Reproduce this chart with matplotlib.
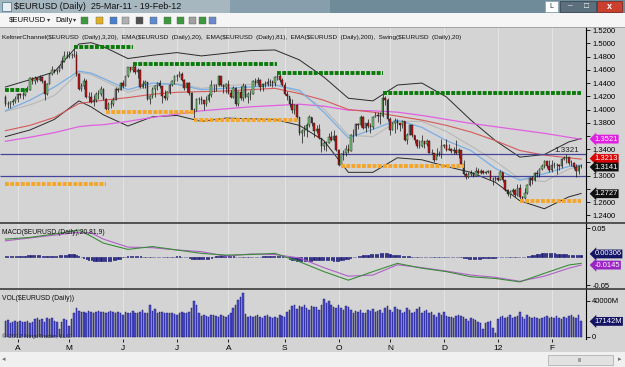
import numpy as np
import pandas as pd
import matplotlib
matplotlib.use("Agg")
import matplotlib.pyplot as plt
from matplotlib.lines import Line2D
from matplotlib.patches import Rectangle

plt.rcParams['font.family'] = ['Liberation Sans', 'DejaVu Sans']

# --- $EURUSD daily bars, 25-Mar-11 .. 17-Feb-12 ---
dates = pd.bdate_range('2011-03-25', '2012-02-17')
first_open = 1.4195

close = [
    1.4090, 1.4085, 1.4110, 1.4125, 1.4165,
    1.4230, 1.4215, 1.4215, 1.4300, 1.4300, 1.4480, 1.4425, 1.4480, 1.4445, 1.4490, 1.4430, 1.4230, 1.4390, 1.4535, 1.4590, 1.4580, 1.4585, 1.4630, 1.4730, 1.4815, 1.4810,
    1.4830, 1.4830, 1.4830, 1.4530, 1.4315, 1.4355, 1.4430, 1.4195, 1.4195, 1.4110, 1.4150, 1.4230, 1.4240, 1.4315, 1.4165, 1.4005, 1.4085, 1.4085, 1.4150, 1.4310, 1.4300, 1.4400,
    1.4360, 1.4500, 1.4635, 1.4590, 1.4645, 1.4560, 1.4600, 1.4340, 1.4385, 1.4410, 1.4160, 1.4200, 1.4310, 1.4350, 1.4405, 1.4360, 1.4210, 1.4180, 1.4260, 1.4370, 1.4430, 1.4500,
    1.4510, 1.4535, 1.4450, 1.4330, 1.4400, 1.4250, 1.4000, 1.3990, 1.4155, 1.4160, 1.4150, 1.4085, 1.4150, 1.4225, 1.4370, 1.4370, 1.4375, 1.4510, 1.4365, 1.4340, 1.4390,
    1.4245, 1.4190, 1.4325, 1.4085, 1.4260, 1.4170, 1.4360, 1.4185, 1.4230, 1.4240, 1.4430, 1.4400, 1.4445, 1.4335, 1.4390, 1.4390, 1.4420, 1.4410, 1.4400, 1.4495, 1.4500, 1.4445, 1.4375,
    1.4235, 1.4200, 1.4090, 1.4000, 1.4065, 1.3885, 1.3650, 1.3675, 1.3700, 1.3770, 1.3880, 1.3790, 1.3680, 1.3710, 1.3570, 1.3450, 1.3500, 1.3500, 1.3590, 1.3545, 1.3605, 1.3390,
    1.3165, 1.3330, 1.3345, 1.3410, 1.3375, 1.3615, 1.3620, 1.3785, 1.3760, 1.3880, 1.3720, 1.3790, 1.3755, 1.3740, 1.3890, 1.3920, 1.3900, 1.3905, 1.4180, 1.4140, 1.3850,
    1.3695, 1.3790, 1.3820, 1.3790, 1.3770, 1.3830, 1.3535, 1.3620, 1.3760, 1.3615, 1.3535, 1.3450, 1.3455, 1.3520, 1.3480, 1.3525, 1.3350, 1.3335, 1.3240, 1.3320, 1.3320, 1.3445,
    1.3465, 1.3385, 1.3400, 1.3380, 1.3385, 1.3350, 1.3385, 1.3180, 1.3025, 1.2985, 1.3030, 1.3045, 1.3000, 1.3075, 1.3045, 1.3065, 1.3045, 1.3050, 1.3075, 1.2945, 1.2950, 1.2960,
    1.2940, 1.3050, 1.2935, 1.2790, 1.2720, 1.2760, 1.2780, 1.2710, 1.2815, 1.2680, 1.2665, 1.2740, 1.2865, 1.2965, 1.2935, 1.3040, 1.3030, 1.3100, 1.3145, 1.3215, 1.3140, 1.3080,
    1.3165, 1.3165, 1.3160, 1.3140, 1.3255, 1.3270, 1.3275, 1.3195, 1.3185, 1.3135, 1.3075, 1.3140, 1.3141,
]
high = [
    1.4220, 1.4125, 1.4135, 1.4160, 1.4200,
    1.4250, 1.4250, 1.4260, 1.4320, 1.4350, 1.4490, 1.4490, 1.4500, 1.4490, 1.4520, 1.4500, 1.4440, 1.4400, 1.4550, 1.4650, 1.4610, 1.4610, 1.4650, 1.4790, 1.4880, 1.4880,
    1.4880, 1.4860, 1.4940, 1.4880, 1.4550, 1.4400, 1.4470, 1.4460, 1.4260, 1.4260, 1.4220, 1.4260, 1.4290, 1.4350, 1.4330, 1.4170, 1.4120, 1.4140, 1.4190, 1.4340, 1.4330, 1.4420,
    1.4440, 1.4510, 1.4640, 1.4630, 1.4695, 1.4670, 1.4620, 1.4610, 1.4440, 1.4440, 1.4420, 1.4220, 1.4340, 1.4370, 1.4420, 1.4450, 1.4360, 1.4290, 1.4280, 1.4390, 1.4440, 1.4520,
    1.4535, 1.4580, 1.4560, 1.4460, 1.4420, 1.4410, 1.4260, 1.4020, 1.4170, 1.4190, 1.4210, 1.4150, 1.4200, 1.4245, 1.4440, 1.4390, 1.4390, 1.4525, 1.4510, 1.4390, 1.4400,
    1.4450, 1.4290, 1.4350, 1.4340, 1.4280, 1.4350, 1.4400, 1.4380, 1.4260, 1.4290, 1.4440, 1.4470, 1.4490, 1.4460, 1.4400, 1.4430, 1.4480, 1.4460, 1.4440, 1.4510, 1.4550, 1.4530, 1.4470,
    1.4410, 1.4280, 1.4180, 1.4160, 1.4090, 1.4080, 1.3890, 1.3700, 1.3760, 1.3790, 1.3920, 1.3890, 1.3800, 1.3770, 1.3780, 1.3570, 1.3530, 1.3520, 1.3650, 1.3670, 1.3690, 1.3610,
    1.3400, 1.3350, 1.3390, 1.3460, 1.3480, 1.3630, 1.3700, 1.3790, 1.3800, 1.3910, 1.3900, 1.3800, 1.3850, 1.3800, 1.3900, 1.3960, 1.3960, 1.3960, 1.4247, 1.4200, 1.4170,
    1.3880, 1.3810, 1.3870, 1.3860, 1.3790, 1.3840, 1.3820, 1.3650, 1.3780, 1.3760, 1.3620, 1.3550, 1.3540, 1.3610, 1.3520, 1.3560, 1.3540, 1.3400, 1.3350, 1.3420, 1.3370, 1.3550,
    1.3480, 1.3550, 1.3480, 1.3420, 1.3440, 1.3540, 1.3420, 1.3380, 1.3230, 1.3060, 1.3060, 1.3080, 1.3060, 1.3125, 1.3120, 1.3100, 1.3080, 1.3070, 1.3090, 1.3080, 1.2980, 1.2990,
    1.2980, 1.3080, 1.3050, 1.2940, 1.2800, 1.2790, 1.2820, 1.2800, 1.2880, 1.2880, 1.2700, 1.2810, 1.2880, 1.2980, 1.2990, 1.3050, 1.3080, 1.3120, 1.3180, 1.3230, 1.3220, 1.3230,
    1.3230, 1.3210, 1.3190, 1.3170, 1.3270, 1.3290, 1.3322, 1.3280, 1.3230, 1.3210, 1.3180, 1.3160, 1.3180,
]
low = [
    1.4060, 1.4030, 1.4025, 1.4075, 1.4095,
    1.4120, 1.4180, 1.4160, 1.4200, 1.4260, 1.4290, 1.4380, 1.4380, 1.4410, 1.4430, 1.4400, 1.4150, 1.4220, 1.4380, 1.4520, 1.4550, 1.4530, 1.4560, 1.4610, 1.4720, 1.4780,
    1.4780, 1.4780, 1.4800, 1.4500, 1.4300, 1.4280, 1.4310, 1.4180, 1.4110, 1.4100, 1.4060, 1.4110, 1.4160, 1.4200, 1.4150, 1.3970, 1.4000, 1.4020, 1.4060, 1.4140, 1.4260, 1.4290,
    1.4330, 1.4350, 1.4490, 1.4560, 1.4560, 1.4540, 1.4480, 1.4330, 1.4330, 1.4330, 1.4140, 1.4080, 1.4180, 1.4190, 1.4300, 1.4330, 1.4100, 1.4150, 1.4150, 1.4240, 1.4350, 1.4390,
    1.4430, 1.4490, 1.4430, 1.4300, 1.4260, 1.4220, 1.3960, 1.3840, 1.3980, 1.4080, 1.4080, 1.3990, 1.4050, 1.4110, 1.4190, 1.4270, 1.4280, 1.4360, 1.4350, 1.4250, 1.4250,
    1.4230, 1.4170, 1.4170, 1.4060, 1.4060, 1.4150, 1.4130, 1.4170, 1.4100, 1.4150, 1.4230, 1.4360, 1.4370, 1.4280, 1.4280, 1.4340, 1.4360, 1.4350, 1.4340, 1.4360, 1.4450, 1.4410, 1.4360,
    1.4220, 1.4140, 1.4040, 1.3940, 1.3930, 1.3850, 1.3620, 1.3495, 1.3600, 1.3590, 1.3730, 1.3750, 1.3590, 1.3640, 1.3560, 1.3360, 1.3390, 1.3380, 1.3500, 1.3520, 1.3530, 1.3380,
    1.3150, 1.3145, 1.3240, 1.3300, 1.3340, 1.3370, 1.3510, 1.3600, 1.3700, 1.3740, 1.3700, 1.3660, 1.3720, 1.3650, 1.3700, 1.3880, 1.3810, 1.3780, 1.3880, 1.4070, 1.3830,
    1.3610, 1.3690, 1.3640, 1.3700, 1.3680, 1.3720, 1.3520, 1.3480, 1.3610, 1.3580, 1.3500, 1.3420, 1.3420, 1.3430, 1.3420, 1.3450, 1.3340, 1.3320, 1.3212, 1.3290, 1.3290, 1.3260,
    1.3420, 1.3380, 1.3390, 1.3340, 1.3320, 1.3330, 1.3260, 1.3170, 1.3010, 1.2945, 1.2960, 1.3000, 1.2980, 1.2990, 1.3030, 1.3030, 1.3030, 1.3030, 1.3040, 1.2940, 1.2860, 1.2920,
    1.2920, 1.2935, 1.2910, 1.2770, 1.2690, 1.2665, 1.2720, 1.2670, 1.2700, 1.2624, 1.2624, 1.2650, 1.2720, 1.2850, 1.2880, 1.2920, 1.2980, 1.2980, 1.3080, 1.3120, 1.3110, 1.3060,
    1.3060, 1.3110, 1.3030, 1.3080, 1.3110, 1.3230, 1.3190, 1.3160, 1.3140, 1.3100, 1.2975, 1.3030, 1.3110,
]
# volume in thousands of millions
volume_k = [
    18, 19, 15, 17, 18,
    17, 18, 16, 17, 18, 15, 16, 20, 21, 19, 20, 17, 21, 20, 21, 18, 16, 9, 17, 20, 19,
    12, 20, 26, 32, 29, 28, 28, 27, 29, 28, 27, 28, 29, 28, 28, 27, 28, 29, 28, 27, 28, 26,
    24, 28, 27, 26, 29, 26, 27, 28, 30, 26, 27, 35, 29, 31, 27, 28, 28, 27, 26, 27, 26, 25,
    24, 26, 28, 27, 26, 28, 32, 40, 35, 27, 23, 24, 23, 22, 24, 24, 23, 22, 24, 23, 22,
    24, 26, 32, 35, 41, 44, 49, 25, 22, 23, 22, 23, 24, 22, 21, 23, 24, 22, 21, 22, 21, 24, 23,
    22, 28, 30, 34, 35, 31, 34, 33, 35, 32, 30, 34, 33, 33, 30, 35, 42, 38, 40, 36, 33, 32,
    35, 32, 30, 34, 33, 30, 27, 29, 28, 30, 27, 26, 30, 29, 31, 28, 29, 30, 27, 32, 34,
    30, 28, 33, 31, 30, 27, 28, 32, 30, 27, 28, 31, 33, 26, 29, 30, 26, 28, 24, 22, 26, 24,
    28, 23, 22, 22, 21, 23, 24, 23, 22, 20, 18, 21, 20, 19, 17, 15, 9, 15, 16, 18, 10, 4,
    20, 22, 23, 21, 22, 24, 21, 22, 23, 28, 22, 20, 24, 22, 21, 22, 21, 20, 21, 22, 23, 21,
    22, 21, 23, 21, 20, 22, 21, 23, 24, 22, 21, 24, 17.142,
]
# MACD diff histogram, in thousandths
macd_diff = [
    1, 2, 2, 2, 2, 2, 2, 2, 2, 3, 3, 3,
    3, 3, 3, 2,
    2, 1, 2, 2, 2, 2, 3, 3,
    4, 4, 5, 5, 5, 4,
    2, 0, -2, -4, -5, -6, -7, -8, -8, -8, -8, -8, -7, -7, -6, -5, -4, -3, -1,
    0, 1, 2, 2, 2, 2, 1, 0,
    -1, -1, -1, -1, -1, 0, 0, -1, -1, -1, 0, 0, 0, 1, 1, 0, 0, -1, -2, -3,
    -4, -4, -4, -4, -4, -3, -3, -2,
    0, 1, 2, 3, 3, 3, 3, 2, 1,
    0, 0, -1, -1, -1, -1, 0, 0, 0, 0, 0, 1, 1, 1,
    2, 2, 2, 2, 2, 1, 0, -1,
    -3, -5, -6, -7, -8, -8, -8, -7, -7, -7, -6, -6, -6, -6, -6, -6, -6, -6, -7, -7, -7, -6, -5, -4, -3, -2, -1, 0,
    1, 2, 3, 4, 4, 5, 5, 5, 5, 6, 6, 7, 6,
    5, 4, 4, 3, 3, 2, 2, 1, 1,
    0, 0, 0, 0, -1, -1, -1, -1, -1, -1, -1, -1, 0, 0, 0, 0, -1, -1, -1, -1, -1, -2,
    -2, -3, -3, -3, -3, -3, -3, -2, -2, -2, -2, -2, -2, -1,
    -1, -1, -1, -1, -1, 0, 0, 0, 0, 0, 0, 1, 2, 3,
    4, 5, 5, 6, 6, 6, 6, 6, 6, 5, 5, 5, 5, 5, 4, 4, 4, 4, 3, 3,
]

# indicator lines, read at these bar numbers
line_bars = [0, 10, 20, 30, 35, 40, 50, 60, 70, 80, 90, 100, 110, 120, 130,
             140, 150, 160, 170, 180, 190, 200, 210, 220, 230, 235]
kc_upper = [1.434, 1.445, 1.457, 1.499, 1.501, 1.495, 1.477, 1.482, 1.486, 1.481, 1.485, 1.489, 1.490,
            1.475, 1.449, 1.417, 1.413, 1.437, 1.440, 1.419, 1.384, 1.353, 1.328, 1.332, 1.351, 1.356]
kc_mid = [1.397, 1.407, 1.421, 1.456, 1.453, 1.444, 1.426, 1.436, 1.439, 1.432, 1.436, 1.438, 1.438,
          1.426, 1.401, 1.361, 1.359, 1.382, 1.382, 1.367, 1.345, 1.322, 1.295, 1.291, 1.310, 1.315]
kc_lower = [1.359, 1.369, 1.385, 1.413, 1.404, 1.392, 1.375, 1.389, 1.391, 1.382, 1.387, 1.386, 1.385,
            1.376, 1.353, 1.305, 1.305, 1.327, 1.324, 1.314, 1.305, 1.290, 1.262, 1.250, 1.268, 1.273]
ema20 = [1.398, 1.414, 1.434, 1.458, 1.455, 1.447, 1.430, 1.440, 1.438, 1.430, 1.432, 1.434, 1.437,
         1.429, 1.396, 1.357, 1.370, 1.384, 1.373, 1.353, 1.338, 1.311, 1.293, 1.303, 1.314, 1.316]
ema81 = [1.368, 1.376, 1.388, 1.409, 1.4115, 1.414, 1.418, 1.423, 1.426, 1.427, 1.428, 1.430, 1.432,
         1.424, 1.414, 1.400, 1.396, 1.390, 1.384, 1.376, 1.366, 1.353, 1.338, 1.331, 1.327, 1.325]
ema200 = [1.352, 1.358, 1.365, 1.374, 1.376, 1.377, 1.382, 1.388, 1.393, 1.398, 1.401, 1.404, 1.406,
          1.408, 1.405, 1.399, 1.398, 1.396, 1.391, 1.385, 1.379, 1.374, 1.369, 1.364, 1.358, 1.355]
macd = [0.031, 0.034, 0.040, 0.047, 0.036, 0.024, 0.013, 0.018, 0.012, 0.006, 0.003, 0.004, 0.006,
        -0.0085, -0.026, -0.041, -0.026, -0.0115, -0.020, -0.026, -0.035, -0.038, -0.044, -0.029, -0.0144, -0.0115]
macd_avg = [0.028, 0.033, 0.038, 0.043, 0.042, 0.031, 0.017, 0.016, 0.012, 0.009, 0.001, 0.005, 0.004,
            -0.002, -0.019, -0.034, -0.032, -0.014, -0.019, -0.025, -0.032, -0.036, -0.043, -0.034, -0.020, -0.0145]

swing_high = [1.4290, 1.4940, 1.4695, 1.4550, 1.4247]
swing_high_from = [0, 28, 52, 111, 154]
swing_high_to = [9, 52, 111, 154, 235]
swing_low = [1.2870, 1.3968, 1.3837, 1.3145, 1.2624]
swing_low_from = [0, 41, 77, 137, 210]
swing_low_to = [41, 77, 120, 187, 235]
drawn_lines = [1.3321, 1.2990]
month_labels = ['A', 'M', 'J', 'J', 'A', 'S', 'O', 'N', 'D', '12', 'F']
price_ticks = [1.24, 1.26, 1.28, 1.30, 1.32, 1.34, 1.36, 1.38, 1.40, 1.42, 1.44, 1.46, 1.48, 1.50, 1.52]
hidden_ticks = [1.28, 1.32, 1.36]   # covered by the value tags

BG = '#d4d4d4'
W, H = 625, 367
fig = plt.figure(figsize=(W / 100, H / 100), dpi=100)
fig.patch.set_facecolor('#f0f0f0')


def frect(x0, y0, x1, y1, **kw):
    kw.setdefault('zorder', -2)
    fig.add_artist(Rectangle((x0 / W, 1 - y1 / H), (x1 - x0) / W, (y1 - y0) / H,
                             transform=fig.transFigure, **kw))


def fline(x0, x1, y, **kw):
    fig.add_artist(Line2D([x0 / W, x1 / W], [1 - y / H, 1 - y / H], transform=fig.transFigure, **kw))


def ftext(x, y, s, **kw):
    fig.text(x / W, 1 - y / H, s, **kw)


def px_axes(x0, y0, x1, y1):
    a = fig.add_axes([x0 / W, 1 - y1 / H, (x1 - x0) / W, (y1 - y0) / H])
    a.set_facecolor(BG)
    for s in ['top', 'left', 'bottom']:
        a.spines[s].set_visible(False)
    a.spines['right'].set_linewidth(0.8)
    a.yaxis.tick_right()
    a.tick_params(axis='y', direction='out', length=3, width=0.6, labelsize=5.5, pad=1.5)
    return a


# window chrome
frect(0, 0, 625, 13, fc='#6f8a99', lw=0)
frect(0, 0, 230, 13, fc='#a7b7bf', lw=0)
frect(230, 0, 330, 13, fc='#879ead', lw=0)
frect(2, 2, 11, 11, fc='#e8eef2', ec='#40708f', lw=0.5, zorder=3)
ftext(14, 6.5, r'\$EURUSD (Daily)  25-Mar-11 - 19-Feb-12', fontsize=6.5, va='center', color='#101010')
frect(545, 1, 558, 12, fc='white', ec='#8aa0b0', lw=0.5, zorder=3)
ftext(551.5, 6.5, 'L', fontsize=5, ha='center', va='center', color='#203040')
frect(560, 1, 596, 12, fc='#5b6f7d', ec='#34414a', lw=0.5, zorder=3)
frect(597, 1, 622, 12, fc='#c9402f', ec='#7a2018', lw=0.5, zorder=3)
ftext(609.5, 6.5, 'x', fontsize=6.5, ha='center', va='center', color='white', weight='bold')
ftext(569, 6.5, '_', fontsize=6, ha='center', va='bottom', color='white')
ftext(586, 6.5, '\u25a1', fontsize=6, ha='center', va='center', color='white')

# toolbar
frect(0, 13, 625, 27, fc='#f5f5f5', lw=0)
fline(0, 625, 27, color='#9a9a9a', lw=0.6, zorder=5)
ftext(9, 20, r'\$EURUSD', fontsize=5.6, va='center', color='#101010')
ftext(47, 20, '\u25be', fontsize=4.5, va='center', color='#303030')
ftext(55, 20, 'Daily', fontsize=5.6, va='center', color='#101010')
ftext(72.5, 20, '\u25be', fontsize=4.5, va='center', color='#303030')
icon_x = [81, 96, 110, 122, 136, 150, 164, 177, 189, 199, 209]
icon_c = ['#3c9a3c', '#e0b020', '#4a7fd0', '#b0b0b0', '#505050', '#5a8ad0',
          '#3c9a3c', '#3c9a3c', '#a0a0a0', '#3c9a3c', '#6a8ad0']
for xi, ci in zip(icon_x, icon_c):
    frect(xi, 17, xi + 7, 24, fc=ci, ec='#606060', lw=0.3, zorder=3)

# chart area and scroll bar
frect(0, 27, 625, 352, fc=BG, lw=0)
frect(0, 352, 625, 367, fc='#f0f0f0', lw=0)
frect(548, 355, 613, 365, fc='#e2e2e2', ec='#a8a8a8', lw=0.5, zorder=3)
ftext(580, 360, 'III', fontsize=4, ha='center', va='center', color='#606060')
ftext(4, 360, '\u25c2', fontsize=5, ha='center', va='center', color='#707070')
ftext(620, 360, '\u25b8', fontsize=5, ha='center', va='center', color='#707070')

x = np.arange(len(close))
c = np.array(close)
o = np.r_[first_open, c[:-1]]
month_pos = [i for i in range(1, len(dates)) if dates[i].month != dates[i - 1].month]
xlim = (-2.2, 237.0)

# ---------------- price panel ----------------
ax = px_axes(0, 27, 586, 222.5)
ax.set_xlim(*xlim)
ax.set_ylim(1.2292, 1.5247)
ax.set_yticks(price_ticks)
ax.set_yticklabels(['' if t in hidden_ticks else f'{t:.4f}' for t in price_ticks])
ax.set_xticks(month_pos)
ax.tick_params(axis='x', bottom=False, labelbottom=False)
ax.grid(axis='x', color='#e6e6e6', lw=0.6)
ax.set_axisbelow(True)

ax.plot(line_bars, kc_upper, color='#2a2a2a', lw=0.7, zorder=2)
ax.plot(line_bars, kc_lower, color='#2a2a2a', lw=0.7, zorder=2)
ax.plot(line_bars, kc_mid, color='#b8b8b8', lw=0.8, zorder=2)
ax.plot(line_bars, ema200, color='#e060e0', lw=0.9, zorder=2)
ax.plot(line_bars, ema81, color='#d45a5a', lw=0.8, zorder=2)
ax.plot(line_bars, ema20, color='#78aee6', lw=0.9, zorder=2)
ax.hlines(drawn_lines, xlim[0], xlim[1], color='#45459a', lw=0.9, zorder=2)

ax.vlines(x, low, high, color='#111111', lw=0.5, zorder=4)
up = c >= o
ax.bar(x, np.abs(c - o), bottom=np.minimum(o, c), width=0.62,
       color=np.where(up, '#78c878', '#c41414'), edgecolor='#111111', lw=0.3, zorder=5)

ax.hlines(swing_high, swing_high_from, swing_high_to, color='#0a7a0a', lw=2.8,
          linestyles=(0, (1.0, 0.35)), zorder=6)
ax.hlines(swing_low, swing_low_from, swing_low_to, color='#f4a62c', lw=2.8,
          linestyles=(0, (1.0, 0.35)), zorder=6)
ax.text(229, 1.3321, '1.3321', fontsize=5.8, ha='center', va='bottom', color='#202020', zorder=7)

ftext(2, 37, r'KeltnerChannel(\$EURUSD  (Daily),3,20),  EMA(\$EURUSD  (Daily),20),  '
      r'EMA(\$EURUSD  (Daily),81),  EMA(\$EURUSD  (Daily),200),  Swing(\$EURUSD  (Daily),20)',
      fontsize=4.6, va='center', color='#101010')


def tag(a, y, s, fc, dy=0):
    a.annotate(s, xy=(1.0, y), xycoords=a.get_yaxis_transform(), xytext=(6, dy),
               textcoords='offset points', fontsize=5.5, color='white', va='center', ha='left',
               bbox=dict(boxstyle='larrow,pad=0.12', fc=fc, ec='none'), annotation_clip=False, zorder=10)


tag(ax, 1.3521, '1.3521', '#e020e0', 1.5)
tag(ax, 1.3213, '1.3213', '#d80000', 2.2)
tag(ax, 1.3141, '1.3141', '#101010', -0.5)
tag(ax, 1.2727, '1.2727', '#101010')

# ---------------- MACD panel ----------------
am = px_axes(0, 223.5, 586, 288.5)
am.set_xlim(*xlim)
am.set_ylim(-0.0556, 0.0584)
am.set_yticks([-0.05, 0.05])
am.set_yticklabels(['-0.05', '0.05'])
am.set_xticks(month_pos)
am.tick_params(axis='x', bottom=False, labelbottom=False)
am.grid(axis='x', color='#e6e6e6', lw=0.6)
am.set_axisbelow(True)
am.bar(x, np.array(macd_diff) / 1000, width=0.5, color='#1c1c78', edgecolor='#1c1c78', lw=0.5, zorder=3)
am.plot(line_bars, macd_avg, color='#b060c8', lw=0.8, zorder=4)
am.plot(line_bars, macd, color='#3c8c3c', lw=0.8, zorder=4)
ftext(2, 232, r'MACD(\$EURUSD (Daily),20,81,9)', fontsize=4.9, va='center', color='#101010')
tag(am, 0.00306, '0.00306', '#141464', 0.8)
tag(am, -0.0145, '-0.0145', '#9a24c4')

# ---------------- volume panel ----------------
av = px_axes(0, 289.5, 586, 339)
av.set_xlim(*xlim)
av.set_ylim(-2580, 52880)
av.set_yticks([0, 40000])
av.set_yticklabels(['0', '40000M'])
av.set_xticks(month_pos)
av.set_xticklabels(month_labels)
av.tick_params(axis='x', direction='out', length=2.5, width=0.6, labelsize=6, pad=1.5)
av.grid(axis='x', color='#e6e6e6', lw=0.6)
av.set_axisbelow(True)
av.bar(x, np.array(volume_k) * 1000, width=0.6, color='#4e4ed4', edgecolor='#12125e', lw=0.3, zorder=3)
ftext(2, 298, r'VOL(\$EURUSD (Daily))', fontsize=4.9, va='center', color='#101010')
ftext(2, 336, '\u00a9 2012 NinjaTrader, LLC', fontsize=4.5, va='center', color='#303030', zorder=6)
tag(av, 17142, '17142M', '#141464')

# panel separators
fline(0, 625, 222.8, color='#3c3c3c', lw=1.2, zorder=5)
fline(0, 625, 288.9, color='#3c3c3c', lw=1.2, zorder=5)

fig.savefig('out.png', dpi=100, facecolor=fig.get_facecolor())
